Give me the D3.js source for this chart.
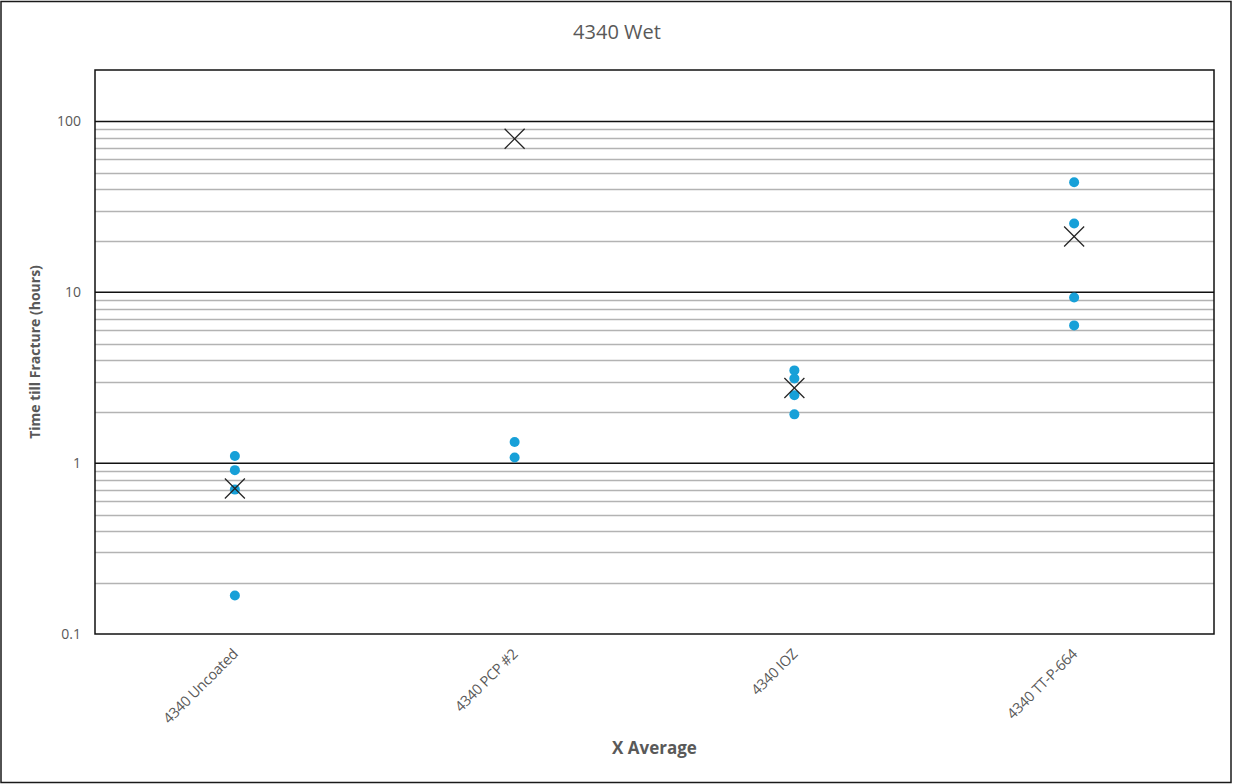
<!DOCTYPE html>
<html>
<head>
<meta charset="utf-8">
<script src="https://cdn.jsdelivr.net/npm/d3@7"></script>
<style>
  body { margin: 0; background: #fff; }
  svg { display: block; font-family: "Open Sans", "Noto Sans", sans-serif; }
</style>
</head>
<body>
<svg width="1235" height="784"></svg>
<script>
const categories = ["4340 Uncoated", "4340 PCP #2", "4340 IOZ", "4340 TT-P-664"];

// individual specimens (hours)
const uncoated = [1.1, 0.91, 0.7, 0.168];
const pcp2 = [1.33, 1.08];
const ioz = [3.49, 3.13, 2.5, 1.93];
const ttp664 = [44.1, 25.3, 9.33, 6.4];

// averages shown with X markers
const averages = [0.71, 79.2, 2.75, 21.2];

const yTicks = [0.1, 1, 10, 100];

let svg = d3.select('svg');

let padding = { top: 70, right: 21, bottom: 150, left: 95 };

const chartArea = {
  "width": 1235 - padding.left - padding.right,
  "height": 784 - padding.top - padding.bottom
};

const xScale = d3.scaleBand()
                  .domain(categories)
                  .range([0, chartArea.width])
                  .padding(0);

const yScale = d3.scaleLog()
                  .domain([0.1, 200])
                  .range([chartArea.height, 0]);

// outer frame
svg.append("rect")
   .attr("x", 1).attr("y", 1.5)
   .attr("width", 1230).attr("height", 781)
   .attr("fill", "#fff")
   .attr("stroke", "#1a1a1a")
   .attr("stroke-width", 1.5);

// title
svg.append("text")
   .attr("x", 617).attr("y", 39)
   .attr("text-anchor", "middle")
   .attr("font-size", 20)
   .attr("fill", "#595959")
   .text("4340 Wet");

let plot = svg.append("g")
  .attr('transform', 'translate(' + padding.left + ',' + padding.top + ')');

// minor grid lines (2..9 of each decade)
const minor = [];
[0.1, 1, 10, 100].forEach((d) => {
  for (let k = 2; k <= 9; k++) {
    if (d * k < 200) minor.push(d * k);
  }
});

plot.append("g").selectAll("line").data(minor)
    .enter().append("line")
    .attr("x1", 0).attr("x2", chartArea.width)
    .attr("y1", (d) => Math.round(yScale(d)) + 0.5)
    .attr("y2", (d) => Math.round(yScale(d)) + 0.5)
    .attr("stroke", "#b3b3b3")
    .attr("stroke-width", 1.5);

// major grid lines
plot.append("g").selectAll("line").data([1, 10, 100])
    .enter().append("line")
    .attr("x1", 0).attr("x2", chartArea.width)
    .attr("y1", (d) => yScale(d))
    .attr("y2", (d) => yScale(d))
    .attr("stroke", "#111")
    .attr("stroke-width", 1.5);

// plot border
plot.append("rect")
    .attr("width", chartArea.width)
    .attr("height", chartArea.height)
    .attr("fill", "none")
    .attr("stroke", "#111")
    .attr("stroke-width", 1.5);

// y axis labels
const yAxis = plot.append("g")
  .call(d3.axisLeft(yScale).tickValues(yTicks).tickFormat((d) => d3.format("")(d)).tickSize(0).tickPadding(14));
yAxis.select(".domain").remove();
yAxis.selectAll("text")
     .attr("font-size", 14)
     .attr("font-family", "Open Sans, sans-serif")
     .attr("fill", "#595959");

// x axis labels
const xAxis = plot.append("g")
  .attr("transform", "translate(0," + chartArea.height + ")")
  .call(d3.axisBottom(xScale).tickSize(0).tickPadding(0));
xAxis.select(".domain").remove();
xAxis.selectAll("text")
     .attr("font-size", 14.5)
     .attr("font-family", "Open Sans, sans-serif")
     .attr("letter-spacing", -0.3)
     .attr("fill", "#595959")
     .attr("text-anchor", "end")
     .attr("dy", 0)
     .attr("transform", "translate(4,21) rotate(-45)");

// axis titles
svg.append("text")
   .attr("transform", "translate(40," + (padding.top + chartArea.height / 2) + ") rotate(-90)")
   .attr("text-anchor", "middle")
   .attr("font-size", 14)
   .attr("font-weight", "bold")
   .attr("fill", "#595959")
   .text("Time till Fracture (hours)");

svg.append("text")
   .attr("x", padding.left + chartArea.width / 2)
   .attr("y", 754)
   .attr("text-anchor", "middle")
   .attr("font-size", 17)
   .attr("font-weight", "bold")
   .attr("fill", "#595959")
   .text("X Average");

// specimen points
const series = [uncoated, pcp2, ioz, ttp664];
const points = [];
series.forEach((vals, i) => {
  vals.forEach((v) => points.push({ cat: categories[i], value: v }));
});

const cx = (c) => xScale(c) + xScale.bandwidth() / 2;

plot.append("g").selectAll("circle").data(points)
    .enter().append("circle")
    .attr("cx", (d) => cx(d.cat))
    .attr("cy", (d) => yScale(d.value))
    .attr("r", 5)
    .attr("fill", "#17a0d8");

// average markers
const avgData = categories.map((c, i) => ({ cat: c, value: averages[i] }));
const s = 10;
let avgGrp = plot.append("g").selectAll("g").data(avgData)
    .enter().append("g")
    .attr("transform", (d) => "translate(" + cx(d.cat) + "," + yScale(d.value) + ")");
avgGrp.append("line")
      .attr("x1", -s).attr("y1", -s).attr("x2", s).attr("y2", s)
      .attr("stroke", "#222").attr("stroke-width", 1.3);
avgGrp.append("line")
      .attr("x1", -s).attr("y1", s).attr("x2", s).attr("y2", -s)
      .attr("stroke", "#222").attr("stroke-width", 1.3);
</script>
</body>
</html>
